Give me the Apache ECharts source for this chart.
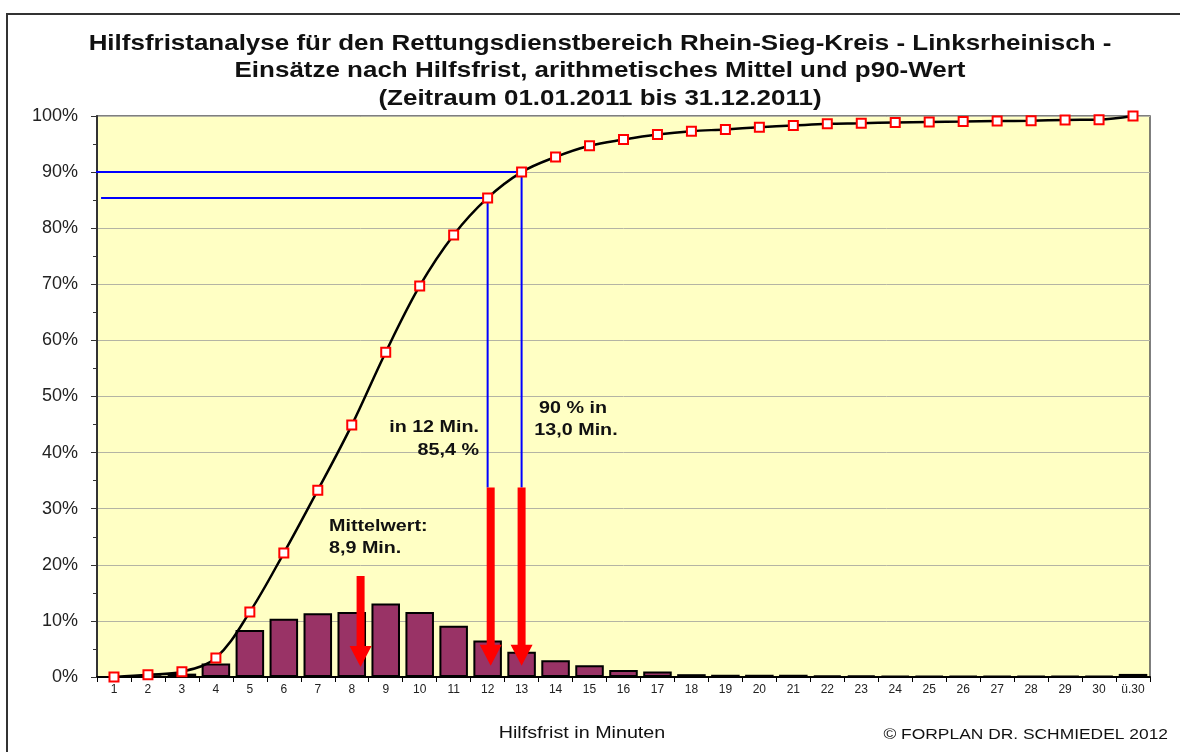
<!DOCTYPE html>
<html>
<head>
<meta charset="utf-8">
<script src="https://cdn.jsdelivr.net/npm/echarts@6/dist/echarts.min.js"></script>
<style>html,body{margin:0;padding:0;background:#fff}#c{width:1180px;height:752px}</style>
</head>
<body>
<div id="c"></div>
<script>
var categories = ['1','2','3','4','5','6','7','8','9','10','11','12','13','14','15','16','17','18','19','20','21','22','23','24','25','26','27','28','29','30','ü.30'];
var barValues = [0, 0.3, 0.6, 2.4, 8.4, 10.4, 11.35, 11.6, 13.1, 11.6, 9.15, 6.5, 4.5, 3.0, 2.1, 1.25, 1.0, 0.5, 0.4, 0.4, 0.4, 0.25, 0.25, 0.15, 0.15, 0.15, 0.15, 0.15, 0.15, 0.15, 0.55];
var cumValues = [0, 0.4, 0.95, 3.4, 11.6, 22.1, 33.3, 44.9, 57.9, 69.7, 78.8, 85.4, 90.0, 92.7, 94.7, 95.8, 96.7, 97.3, 97.6, 98.0, 98.3, 98.6, 98.7, 98.85, 98.95, 99.0, 99.1, 99.15, 99.3, 99.35, 100];
var p90Line = [[0.41, 90], [13, 90], [13, 33.8]];
var p12Line = [[0.62, 85.4], [12, 85.4], [12, 33.8]];
var arrowX = [8.26, 12.09, 13.0];
var arrowTop = [18.0, 33.8, 33.8];
var arrowTip = [1.8, 2.0, 2.0];
var titleLines = ['Hilfsfristanalyse für den Rettungsdienstbereich Rhein-Sieg-Kreis - Linksrheinisch -', 'Einsätze nach Hilfsfrist, arithmetisches Mittel und p90-Wert', '(Zeitraum 01.01.2011 bis 31.12.2011)'];

var FONT = 'Liberation Sans, Arial, sans-serif';
var SX = 1.16;
var chart = echarts.init(document.getElementById('c'));

var arrowData = arrowX.map(function (x, i) { return [x, arrowTop[i], arrowTip[i]]; });

function txt(x, y, text, font, align, sx) {
  return { type: 'text', x: x, y: y, scaleX: sx || SX, z: 100,
    style: { text: text, font: font, fill: '#111', textAlign: align, textVerticalAlign: 'middle' } };
}

var graphics = [
  { type: 'rect', shape: { x: 7, y: 14, width: 1300, height: 900 }, style: { fill: 'none', stroke: '#333', lineWidth: 2 }, z: 100 }
];
var titleY = [44, 71, 99];
titleLines.forEach(function (t, i) {
  graphics.push(txt(600, titleY[i], t, 'bold 22px ' + FONT, 'center', 1.18));
});
graphics.push(
  txt(479, 427, 'in 12 Min.', 'bold 17px ' + FONT, 'right'),
  txt(479, 450, '85,4 %', 'bold 17px ' + FONT, 'right'),
  txt(573, 408, '90 % in', 'bold 17px ' + FONT, 'center'),
  txt(576, 430, '13,0 Min.', 'bold 17px ' + FONT, 'center'),
  txt(329, 526, 'Mittelwert:', 'bold 17px ' + FONT, 'left'),
  txt(329, 548, '8,9 Min.', 'bold 17px ' + FONT, 'left'),
  txt(582, 733, 'Hilfsfrist in Minuten', '17px ' + FONT, 'center'),
  txt(1168, 735, '© FORPLAN DR. SCHMIEDEL 2012', '15px ' + FONT, 'right')
);

var option = {
  animation: false,
  backgroundColor: '#fff',
  grid: { left: 97, right: 30, top: 116, bottom: 75, show: true, backgroundColor: '#FFFFC4', borderColor: '#555', borderWidth: 1.5 },
  xAxis: [
    {
      type: 'category', data: categories, boundaryGap: true,
      axisLine: { lineStyle: { color: '#000', width: 2 } },
      axisTick: { show: true, alignWithLabel: false, length: 5, lineStyle: { color: '#000' } },
      axisLabel: { fontFamily: FONT, fontSize: 12, color: '#222', margin: 7, interval: 0 },
      splitLine: { show: false }
    },
    { type: 'value', min: 0.5, max: 31.5, show: false }
  ],
  yAxis: {
    type: 'value', min: 0, max: 100, interval: 10,
    axisLine: { show: true, lineStyle: { color: '#333', width: 2 } },
    axisTick: { show: true, length: 6, lineStyle: { color: '#333' } },
    minorTick: { show: true, splitNumber: 2, length: 4, lineStyle: { color: '#333' } },
    axisLabel: { formatter: '{value}%', fontFamily: FONT, fontSize: 18, color: '#222', margin: 19 },
    splitLine: { show: true, lineStyle: { color: '#b4b4a4', width: 1 } }
  },
  graphic: graphics,
  series: [
    {
      type: 'bar', data: barValues, barCategoryGap: '16%', xAxisIndex: 0,
      itemStyle: { color: '#993366', borderColor: '#000', borderWidth: 2 }, z: 2
    },
    {
      type: 'line', xAxisIndex: 1, data: p90Line, symbol: 'none', clip: false,
      lineStyle: { color: '#0000ff', width: 2 }, z: 3
    },
    {
      type: 'line', xAxisIndex: 1, data: p12Line, symbol: 'none', clip: false,
      lineStyle: { color: '#0000ff', width: 2 }, z: 3
    },
    {
      type: 'custom', xAxisIndex: 1, data: arrowData, z: 4,
      renderItem: function (params, api) {
        var x = api.value(0);
        var p1 = api.coord([x, api.value(1)]);
        var p2 = api.coord([x, api.value(2)]);
        var hw = 4, hh = 21, hhw = 11;
        return {
          type: 'polygon',
          shape: { points: [[p1[0] - hw, p1[1]], [p1[0] + hw, p1[1]], [p1[0] + hw, p2[1] - hh], [p1[0] + hhw, p2[1] - hh], [p2[0], p2[1]], [p1[0] - hhw, p2[1] - hh], [p1[0] - hw, p2[1] - hh]] },
          style: { fill: '#ff0000' }
        };
      }
    },
    {
      type: 'line', xAxisIndex: 0, data: cumValues, smooth: 0.35,
      symbol: 'rect', symbolSize: 9,
      lineStyle: { color: '#000', width: 2.5 },
      itemStyle: { color: '#fff', borderColor: '#ff0000', borderWidth: 2 }, z: 5
    }
  ]
};
chart.setOption(option);
</script>
</body>
</html>
